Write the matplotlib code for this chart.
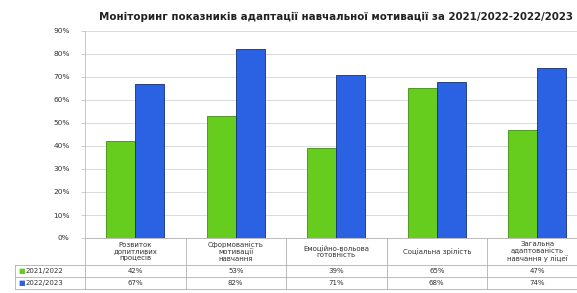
import numpy as np
import matplotlib.pyplot as plt

title = "Моніторинг показників адаптації навчальної мотивації за 2021/2022-2022/2023"
categories = [
    "Розвиток\nдопитливих\nпроцесів",
    "Сформованість\nмотивації\nнавчання",
    "Емоційно-вольова\nготовність",
    "Соціальна зрілість",
    "Загальна\nадаптованість\nнавчання у ліцеї",
]
series_names = ["2021/2022", "2022/2023"]
values_2122 = [42, 53, 39, 65, 47]
values_2223 = [67, 82, 71, 68, 74]
yticks = list(range(0, 100, 10))

green = "#66cc1e"
blue = "#2b62e3"

W, H = 577, 293
fig = plt.figure(figsize=(W / 100, H / 100), dpi=100)
fig.patch.set_facecolor("white")

# axes in pixel terms: left 85, right ~587, top 31 (=90%), bottom 238 (=0%)
left, right, top, bottom = 85, 587.5, 31, 238
ax = fig.add_axes([left / W, 1 - bottom / H, (right - left) / W, (bottom - top) / H])

n = len(categories)
x = np.arange(n)
bw = 0.29
ax.bar(x - bw / 2, values_2122, bw, color=green, edgecolor="#3f8f10", linewidth=0.6, zorder=3)
ax.bar(x + bw / 2, values_2223, bw, color=blue, edgecolor="#12307a", linewidth=0.6, zorder=3)

ax.set_xlim(-0.5, n - 0.5)
ax.set_ylim(0, 90)
ax.set_yticks(yticks)
ax.set_yticklabels([f"{v}%" for v in yticks], fontsize=5.3, color="#333333")
ax.set_xticks([])
ax.grid(axis="y", color="#d4d4d4", linewidth=0.6, zorder=0)
for s in ["top", "right", "bottom"]:
    ax.spines[s].set_visible(False)
ax.spines["left"].set_color("#bbbbbb")
ax.spines["left"].set_linewidth(0.6)
ax.tick_params(axis="y", length=3, width=0.5, color="#bbbbbb", pad=8)

fig.text(336 / W, 1 - 17 / H, title, ha="center", va="center",
         fontsize=7.4, fontweight="bold", color="#222222")

# data table below the axis
row_h = (238, 265, 277, 289)
def fy(py):
    return 1 - py / H
lc = "#b0b0b0"
edges = left + np.arange(n + 1) * (right - left) / n
for xe in edges:
    fig.add_artist(plt.Line2D([xe / W, xe / W], [fy(row_h[0]), fy(row_h[-1])],
                              color=lc, linewidth=0.6))
for i, yy in enumerate(row_h):
    x0 = left if i == 0 else 15
    fig.add_artist(plt.Line2D([x0 / W, right / W], [fy(yy), fy(yy)],
                              color=lc, linewidth=0.6))
fig.add_artist(plt.Line2D([15 / W, 15 / W], [fy(row_h[1]), fy(row_h[-1])],
                          color=lc, linewidth=0.6))

for i, cat in enumerate(categories):
    cx = (edges[i] + edges[i + 1]) / 2
    fig.text(cx / W, fy((row_h[0] + row_h[1]) / 2), cat, ha="center", va="center",
             fontsize=5, color="#333333", linespacing=1.05)
    for r, vals in enumerate([values_2122, values_2223]):
        fig.text(cx / W, fy((row_h[r + 1] + row_h[r + 2]) / 2), f"{vals[i]}%",
                 ha="center", va="center", fontsize=5, color="#333333")

for r, name in enumerate(series_names):
    yc = fy((row_h[r + 1] + row_h[r + 2]) / 2)
    fig.text(18 / W, yc, "■", ha="left", va="center", fontsize=5,
             color=[green, blue][r])
    fig.text(26 / W, yc, name, ha="left", va="center", fontsize=5, color="#333333")

fig.savefig("out.png", dpi=100)
